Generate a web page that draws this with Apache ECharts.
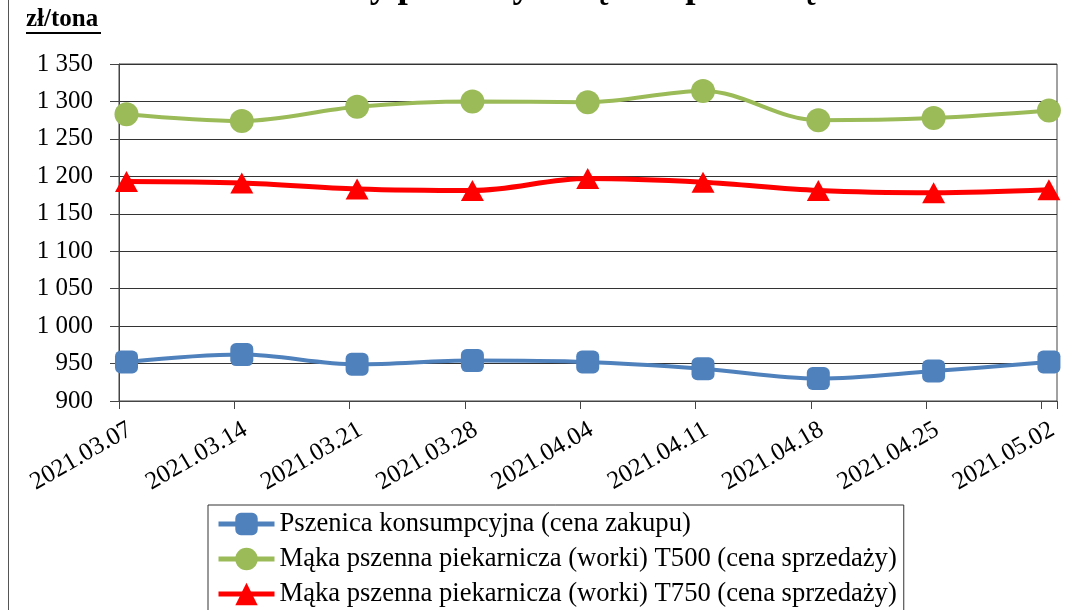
<!DOCTYPE html>
<html>
<head>
<meta charset="utf-8">
<script src="https://cdn.jsdelivr.net/npm/echarts@6/dist/echarts.min.js"></script>
<style>
  html, body { margin: 0; padding: 0; background: #fff; }
  #chart { width: 1075px; height: 610px; }
</style>
</head>
<body>
<div id="chart"></div>
<script>
// daty notowań
var dates = ['2021.03.07', '2021.03.14', '2021.03.21', '2021.03.28', '2021.04.04',
             '2021.04.11', '2021.04.18', '2021.04.25', '2021.05.02'];
var yTicks = [900, 950, 1000, 1050, 1100, 1150, 1200, 1250, 1300, 1350];

var pszenica = [952, 962, 949, 954, 952, 943, 930, 940, 952];
var makaT500 = [1283, 1274, 1293, 1300, 1299, 1314, 1275, 1278, 1288];
var makaT750 = [1193, 1191, 1183, 1181, 1197, 1192, 1181, 1178, 1182];

var names = [
    'Pszenica konsumpcyjna (cena zakupu)',
    'Mąka pszenna piekarnicza (worki) T500 (cena sprzedaży)',
    'Mąka pszenna piekarnicza (worki) T750 (cena sprzedaży)'
];

var FONT = 'Liberation Serif';

function pairs(arr) {
    return arr.map(function (v, i) { return [i, v]; });
}

// 1 350 -> spacja jako separator tysięcy
function fmtY(v) {
    if (v >= 1000) {
        var r = String(v % 1000);
        while (r.length < 3) r = '0' + r;
        return Math.floor(v / 1000) + ' ' + r;
    }
    return String(v);
}

var chart = echarts.init(document.getElementById('chart'));

var option = {
    animation: false,
    title: {
        text: 'Ceny pszenicy i mąki w przedsiębiorstwach',
        left: 306,
        top: -31,
        padding: 0,
        textStyle: { fontFamily: FONT, fontSize: 37, fontWeight: 'bold', color: '#000' }
    },
    graphic: [
        { type: 'line', shape: { x1: 8.5, y1: 0, x2: 8.5, y2: 610 }, style: { stroke: '#555', lineWidth: 1 } },
        { type: 'text', left: 26, top: 7, style: { text: 'zł/tona', font: 'bold 25px "Liberation Serif"', fill: '#000' } },
        { type: 'line', shape: { x1: 26, y1: 33, x2: 101, y2: 33 }, style: { stroke: '#000', lineWidth: 2 } }
    ],
    legend: {
        orient: 'vertical',
        left: 208,
        top: 505,
        height: 130,
        padding: [4, 7, 5, 8],
        itemGap: 5,
        itemWidth: 56,
        itemHeight: 28,
        borderColor: '#333',
        borderWidth: 1,
        lineStyle: { width: 5 },
        textStyle: { fontFamily: FONT, fontSize: 26.6, color: '#000', lineHeight: 30 },
        data: names
    },
    grid: [
        { left: 119, right: 18, top: 64, bottom: 209, show: true, borderColor: '#444', borderWidth: 1 },
        { left: 130, right: 7, top: 64, bottom: 209, show: false }
    ],
    xAxis: [
        // oś danych (ukryta)
        { gridIndex: 0, type: 'value', position: 'top', min: -0.065, max: 8.07, show: false },
        // kreski podziałki
        {
            gridIndex: 0, type: 'value', position: 'bottom', min: 0, max: 8.135, interval: 1,
            axisLine: { show: true, onZero: false, lineStyle: { color: '#444', width: 1 } },
            axisTick: { show: true, length: 8, lineStyle: { color: '#444' } },
            axisLabel: { show: false },
            splitLine: { show: false }
        },
        // etykiety dat
        {
            gridIndex: 1, type: 'value', position: 'bottom', min: 0, max: 8.135, interval: 1,
            axisLine: { show: false, onZero: false },
            axisTick: { show: false },
            splitLine: { show: false },
            axisLabel: {
                rotate: 30,
                margin: 27,
                fontFamily: FONT,
                fontSize: 25,
                color: '#000',
                formatter: function (v) {
                    return Number.isInteger(v) && dates[v] ? dates[v] : '';
                }
            }
        }
    ],
    yAxis: [
        {
            gridIndex: 0, type: 'value', position: 'left',
            min: yTicks[0], max: yTicks[yTicks.length - 1], interval: 50,
            axisLine: { show: true, onZero: false, lineStyle: { color: '#444', width: 1 } },
            axisTick: { show: true, length: 9, lineStyle: { color: '#444' } },
            axisLabel: { margin: 26, fontFamily: FONT, fontSize: 25, color: '#000', formatter: fmtY },
            splitLine: { show: true, lineStyle: { color: '#333', width: 1 } }
        },
        { gridIndex: 1, type: 'value', min: 900, max: 1350, show: false }
    ],
    series: [
        {
            name: names[0], type: 'line', xAxisIndex: 0, yAxisIndex: 0,
            smooth: 0.35, symbol: 'roundRect', symbolSize: 23,
            itemStyle: { color: '#4F81BD' },
            lineStyle: { color: '#4F81BD', width: 4 },
            data: pairs(pszenica)
        },
        {
            name: names[1], type: 'line', xAxisIndex: 0, yAxisIndex: 0,
            smooth: 0.35, symbol: 'circle', symbolSize: 24,
            itemStyle: { color: '#9BBB59' },
            lineStyle: { color: '#9BBB59', width: 4 },
            data: pairs(makaT500)
        },
        {
            name: names[2], type: 'line', xAxisIndex: 0, yAxisIndex: 0,
            smooth: 0.35, symbol: 'triangle', symbolSize: [23, 21],
            itemStyle: { color: '#FF0000' },
            lineStyle: { color: '#FF0000', width: 5 },
            data: pairs(makaT750)
        }
    ]
};

chart.setOption(option);
</script>
</body>
</html>
